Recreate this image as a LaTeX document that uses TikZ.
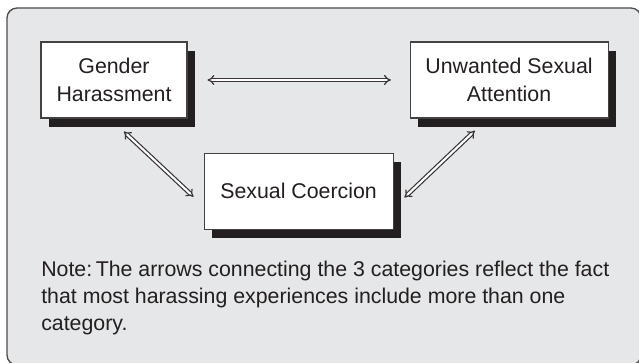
\documentclass[tikz,border=0pt]{standalone}
\usepackage{fontspec}
\setmainfont{Liberation Sans}
\usetikzlibrary{arrows.meta,positioning,shadows}
\definecolor{panelgray}{HTML}{E6E7E8}
\definecolor{inkgray}{HTML}{231F20}

\begin{document}
\begin{tikzpicture}[x=0.75pt,y=-0.75pt,node distance=1cm]
    \tikzset{
      panel/.style={draw=inkgray!80,line width=1pt,fill=panelgray,rounded corners=7.5pt},
      catnode/.style={rectangle,draw=inkgray!85,line width=0.8pt,fill=white,text=inkgray,minimum height=57pt,align=center,font=\fontsize{16}{21}\selectfont,drop shadow={shadow xshift=6pt,shadow yshift=-6.5pt,opacity=1,fill=inkgray}},
      notenode/.style={align=left,text=inkgray,inner sep=0pt,font=\fontsize{16}{20.25}\selectfont},
      dblarrow/.style={{Implies}-{Implies},double,double distance=1.6pt,line width=0.9pt,draw=inkgray!90}
    }
    \clip (0,0) rectangle (639,363);
    \draw[panel] (7,8) rectangle (641,365);

    \node[catnode,minimum width=109.5pt](gender) at (114,80){Gender\\Harassment};
    \node[catnode,minimum width=148.5pt,right=166.5pt of gender](unwanted){Unwanted Sexual\\Attention};
    \node[catnode,minimum width=141.75pt,below right=25.5pt and 12pt of gender](coercion){Sexual Coercion};
    \node[notenode,anchor=base west](note) at (41,330){Note:\,The arrows connecting the 3 categories reflect the fact\\that most harassing experiences include more than one\\category.};

    \draw[dblarrow,shorten <=15pt,shorten >=14pt](gender.east) -- (unwanted.west);
    \draw[dblarrow,shorten <=14.3pt,shorten >=10.3pt](gender.264) -- (coercion.189);
    \draw[dblarrow,shorten <=13.3pt,shorten >=11.2pt](unwanted.241) -- (coercion.350);
  \end{tikzpicture}
\end{document}
